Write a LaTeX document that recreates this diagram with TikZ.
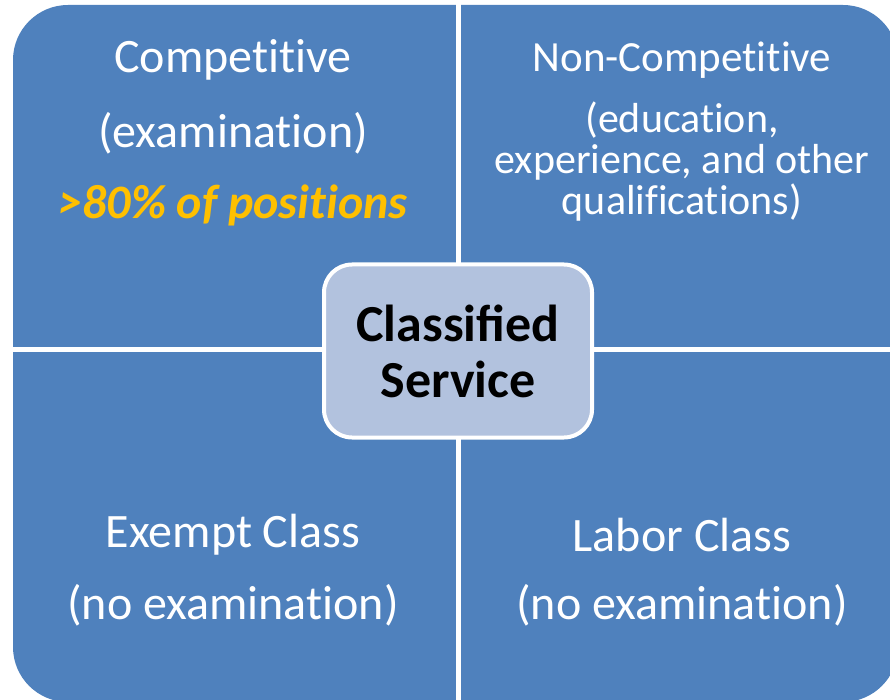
\documentclass[tikz,border=0pt]{standalone}
\usepackage{fontspec}
\setmainfont{Carlito}
\newfontfamily\quadfont[Ligatures=NoCommon]{Carlito}
\usetikzlibrary{positioning}
\definecolor{quadblue}{HTML}{4F81BD}
\definecolor{hubblue}{HTML}{B2C2DE}
\definecolor{gold}{HTML}{FFC000}
\tikzset{
	quadtext/.style={text=white, align=center, font=\quadfont\fontsize{48}{42}\selectfont},
	smalltext/.style={quadtext, font=\quadfont\fontsize{42}{41}\selectfont},
	hubbox/.style={draw=white, line width=4pt, fill=hubblue, rounded corners=28pt, minimum width=268pt, minimum height=173pt, align=center, font=\fontsize{52}{56}\selectfont\bfseries}
}

\begin{document}
\begin{tikzpicture}[x=1pt, y=-1pt]
				%%%%% START %%%%%
				\useasboundingbox (0, 0) rectangle (890, 700);
				
				\fill[quadblue, rounded corners=55pt] (13, 5) rectangle (898, 702);
				\draw[white, line width=5pt] (458.5, 0) -- (458.5, 700);
				\draw[white, line width=5pt] (0, 349) -- (890, 349);
				
				\node[hubbox] (hub) at (458, 351) {Classified\\Service};
				
				\node[quadtext] (comp) at (233, 60) {Competitive};
				\node[quadtext] (compexam) at (233, 133) {(examination)};
				\node[quadtext, text=gold, font=\quadfont\fontsize{48}{42}\selectfont\bfseries\itshape] (compshare) at (233, 205) {>80\% of positions};
				
				\node[smalltext, font=\quadfont\fontsize{43}{41}\selectfont] (noncomp) at (682, 60) {Non-Competitive};
				\node[smalltext] (noncompqual) at (682, 162) {(education,\\experience, and other\\qualifications)};
				
				\node[quadtext] (exempt) at (233, 535) {Exempt Class};
				\node[quadtext] (exemptexam) at (233, 605) {(no examination)};
				
				\node[quadtext] (labor) at (682, 535) {Labor Class};
				\node[quadtext] (laborexam) at (682, 605) {(no examination)};
				%%%%% END %%%%%
\end{tikzpicture}
\end{document}
